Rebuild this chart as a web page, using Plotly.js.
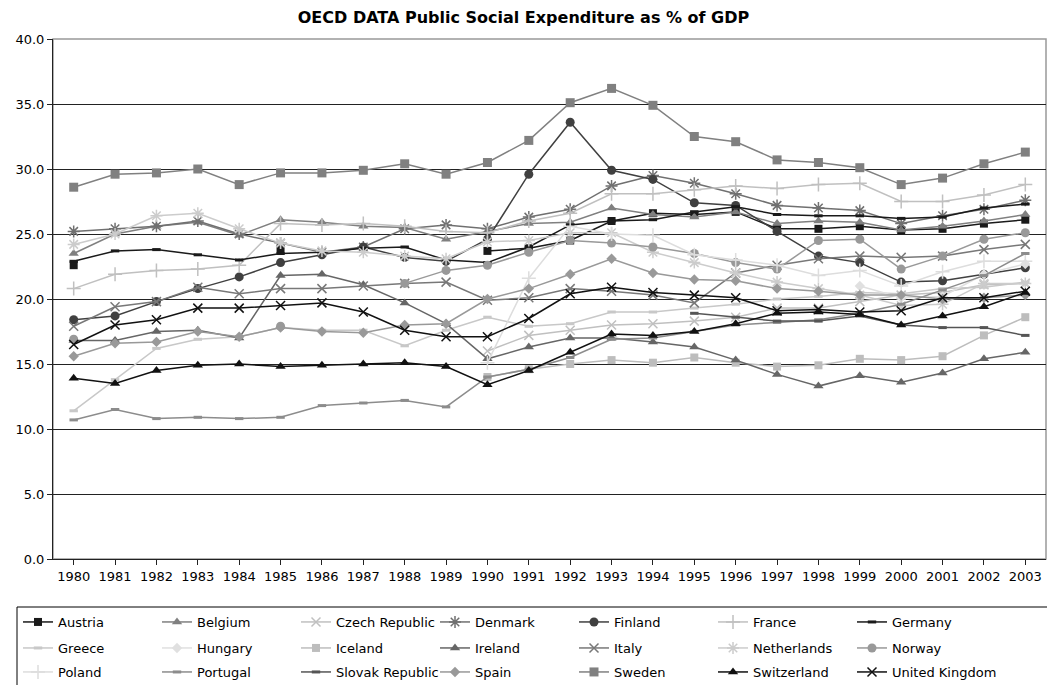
<!DOCTYPE html>
<html><head><meta charset="utf-8">
<script src="https://cdn.plot.ly/plotly-3.0.1.min.js"></script>
<style>body{margin:0;background:#fff}#chart{width:1047px;height:685px}</style>
</head><body><div id="chart"></div>
<script>
const years = ['1980','1981','1982','1983','1984','1985','1986','1987','1988','1989','1990','1991','1992','1993','1994','1995','1996','1997','1998','1999','2000','2001','2002','2003'];
const austria = [22.6,null,null,null,null,23.9,null,null,null,null,23.7,23.9,24.5,26.0,26.6,26.5,26.7,25.4,25.4,25.6,25.3,25.4,25.8,26.1];
const belgium = [23.5,25.0,25.6,25.9,24.9,26.1,25.9,25.6,25.5,24.6,25.2,25.8,25.9,27.0,26.5,26.3,26.7,25.8,26.0,25.9,25.3,25.6,26.0,26.5];
const czech = [null,null,null,null,null,null,null,null,null,null,16.0,17.2,17.6,18.0,18.1,18.3,18.6,19.3,19.3,19.8,20.3,20.5,21.1,21.2];
const denmark = [25.2,25.4,25.6,26.0,25.0,24.3,23.6,24.0,25.4,25.7,25.4,26.3,26.9,28.7,29.5,28.9,28.1,27.2,27.0,26.8,25.8,26.4,26.9,27.6];
const finland = [18.4,18.7,19.8,20.8,21.7,22.8,23.4,24.0,23.2,22.9,24.6,29.6,33.6,29.9,29.2,27.4,27.2,25.2,23.3,22.8,21.3,21.4,21.9,22.4];
const france = [20.8,21.9,22.2,22.3,22.6,25.8,25.7,25.8,25.6,25.2,25.1,26.0,26.6,28.1,28.1,28.4,28.7,28.5,28.8,28.9,27.5,27.5,28.0,28.8];
const germany = [22.9,23.7,23.8,23.4,23.0,23.5,23.6,23.9,24.0,23.0,22.8,24.0,25.7,26.0,26.1,26.7,27.1,26.5,26.4,26.4,26.2,26.3,27.0,27.3];
const greece = [11.4,13.8,16.2,16.9,17.1,17.8,17.6,17.6,16.4,17.6,18.6,17.9,18.1,19.0,19.0,19.3,19.6,20.0,20.2,20.5,20.4,20.8,20.9,21.3];
const hungary = [null,null,null,null,null,null,null,null,null,null,null,null,null,null,null,null,null,null,null,21.0,20.1,20.2,21.9,22.7];
const iceland = [null,null,null,null,null,null,null,null,null,null,14.0,14.6,15.0,15.3,15.1,15.5,15.1,14.8,14.9,15.4,15.3,15.6,17.2,18.6];
const ireland = [16.8,16.8,17.5,17.6,17.0,21.8,21.9,21.1,19.7,18.1,15.4,16.3,17.0,17.0,16.7,16.3,15.3,14.2,13.3,14.1,13.6,14.3,15.4,15.9];
const italy = [17.9,19.4,19.8,20.9,20.4,20.8,20.8,21.0,21.2,21.3,19.9,20.1,20.8,20.6,20.3,19.7,22.0,22.6,23.1,23.3,23.2,23.3,23.8,24.2];
const netherlands = [24.2,25.0,26.4,26.6,25.4,24.3,23.7,23.6,23.3,23.1,24.4,24.5,25.1,25.1,23.6,22.8,22.0,21.3,20.8,20.3,19.5,19.6,21.2,21.2];
const norway = [16.9,null,null,null,null,17.9,null,null,21.2,22.2,22.6,23.6,24.5,24.3,24.0,23.5,22.8,22.3,24.5,24.6,22.3,23.3,24.6,25.1];
const poland = [null,null,null,null,null,null,null,null,null,null,15.1,21.6,25.6,25.0,24.9,23.4,23.0,22.6,21.8,22.2,21.0,22.1,22.9,22.9];
const portugal = [10.7,11.5,10.8,10.9,10.8,10.9,11.8,12.0,12.2,11.7,14.0,14.6,15.5,16.9,17.0,17.5,18.0,18.2,18.4,18.9,19.6,20.7,21.8,23.5];
const slovak = [null,null,null,null,null,null,null,null,null,null,null,null,null,null,null,18.9,18.6,18.3,18.3,18.7,18.0,17.8,17.8,17.2];
const spain = [15.6,16.6,16.7,17.5,17.1,17.8,17.5,17.4,18.0,18.1,20.0,20.8,21.9,23.1,22.0,21.5,21.4,20.8,20.6,20.3,20.3,20.0,20.1,20.3];
const sweden = [28.6,29.6,29.7,30.0,28.8,29.7,29.7,29.9,30.4,29.6,30.5,32.2,35.1,36.2,34.9,32.5,32.1,30.7,30.5,30.1,28.8,29.3,30.4,31.3];
const switzerland = [13.9,13.5,14.5,14.9,15.0,14.8,14.9,15.0,15.1,14.8,13.4,14.5,15.9,17.3,17.2,17.5,18.1,18.9,19.0,18.8,18.0,18.7,19.4,20.5];
const uk = [16.5,18.0,18.4,19.3,19.3,19.5,19.7,19.0,17.6,17.1,17.1,18.5,20.4,20.9,20.5,20.3,20.1,19.1,19.2,19.0,19.1,20.1,20.1,20.6];

const series = [
  ['Austria', austria, '#1a1a1a', 'square', 8, false],
  ['Belgium', belgium, '#808080', 'triangle-up', 9, false],
  ['Czech Republic', czech, '#c0c0c0', 'x-thin-open', 9, true],
  ['Denmark', denmark, '#707070', 'asterisk-open', 10, true],
  ['Finland', finland, '#404040', 'circle', 9, false],
  ['France', france, '#c0c0c0', 'cross-thin-open', 10, true],
  ['Germany', germany, '#1a1a1a', 'line-ew-open', 6, true],
  ['Greece', greece, '#c8c8c8', 'line-ew-open', 6, true],
  ['Hungary', hungary, '#e0e0e0', 'diamond', 8, false],
  ['Iceland', iceland, '#bdbdbd', 'square', 8, false],
  ['Ireland', ireland, '#666666', 'triangle-up', 9, false],
  ['Italy', italy, '#787878', 'x-thin-open', 9, true],
  ['Netherlands', netherlands, '#cccccc', 'asterisk-open', 10, true],
  ['Norway', norway, '#999999', 'circle', 9, false],
  ['Poland', poland, '#dddddd', 'cross-thin-open', 10, true],
  ['Portugal', portugal, '#8c8c8c', 'line-ew-open', 6, true],
  ['Slovak Republic', slovak, '#555555', 'line-ew-open', 6, true],
  ['Spain', spain, '#999999', 'diamond', 8, false],
  ['Sweden', sweden, '#808080', 'square', 9, false],
  ['Switzerland', switzerland, '#111111', 'triangle-up', 9, false],
  ['United Kingdom', uk, '#111111', 'x-thin-open', 9, true]
];

// rows of the legend box; the last entry gets its own legend so its long text is not clipped
const legendFor = i => (i === 20 ? 'legend4' : ['legend', 'legend2', 'legend3'][Math.floor(i / 7)]);
const traces = series.map(([name, vals, color, sym, size, open], i) => ({
  type: 'scatter', mode: 'lines+markers', name: name, x: years, y: vals,
  connectgaps: false, legend: legendFor(i),
  line: {color: color, width: 1.5},
  marker: open ? {symbol: sym, size: size, color: color, line: {color: color, width: sym === 'line-ew-open' ? 3 : 1.5}}
               : {symbol: sym, size: size, color: color, line: {width: 0}}
}));

const FONT = 'DejaVu Sans, Liberation Sans, Arial, sans-serif';
function legendRow(leftPx, topPx, ew) {
  return {orientation: 'h', xref: 'container', yref: 'container',
    x: leftPx / 1047, xanchor: 'left', y: 1 - topPx / 685, yanchor: 'top',
    entrywidth: ew, entrywidthmode: 'pixels', traceorder: 'normal',
    borderwidth: 0, bgcolor: 'rgba(0,0,0,0)',
    font: {family: FONT, size: 13, color: '#000'}, itemclick: false};
}

const layout = {
  width: 1047, height: 685,
  margin: {l: 53, r: 1, t: 39, b: 126},
  paper_bgcolor: '#fff', plot_bgcolor: '#fff',
  font: {family: FONT, size: 13, color: '#000'},
  title: {text: '<b>OECD DATA Public Social Expenditure as % of GDP</b>', x: 0.5, xanchor: 'center', y: 0.974, yanchor: 'middle', font: {family: FONT, size: 16, color: '#000'}},
  xaxis: {type: 'category', tickmode: 'array', tickvals: years, ticktext: years,
    showgrid: false, showline: true, linecolor: '#222', linewidth: 1, mirror: false,
    ticks: 'outside', ticklen: 5, tickcolor: '#222', tickfont: {family: FONT, size: 13},
    range: [-0.5, 23.5], zeroline: false, fixedrange: true},
  yaxis: {range: [0, 40], dtick: 5, tickformat: '.1f', showgrid: true, gridcolor: '#222', gridwidth: 1,
    showline: true, linecolor: '#222', linewidth: 1, ticks: 'outside', ticklen: 5, tickcolor: '#222',
    tickfont: {family: FONT, size: 13}, zeroline: false, fixedrange: true},
  shapes: [
    {type: 'rect', xref: 'paper', yref: 'paper', x0: 0, x1: 1, y0: 0, y1: 1, line: {color: '#999', width: 1.5}, layer: 'below'},
    {type: 'rect', xref: 'paper', yref: 'paper', x0: (17 - 53) / 993, x1: 1.02, y0: (559 - 607) / 520, y1: -0.4, line: {color: '#000', width: 1}, layer: 'below'}
  ],
  showlegend: true,
  legend: legendRow(18, 607, 94),
  legend2: legendRow(18, 633, 94),
  legend3: legendRow(18, 657, 94),
  legend4: legendRow(18 + 6 * 139, 657, 0)
};

Plotly.newPlot('chart', traces, layout, {displayModeBar: false, staticPlot: true});
</script></body></html>
